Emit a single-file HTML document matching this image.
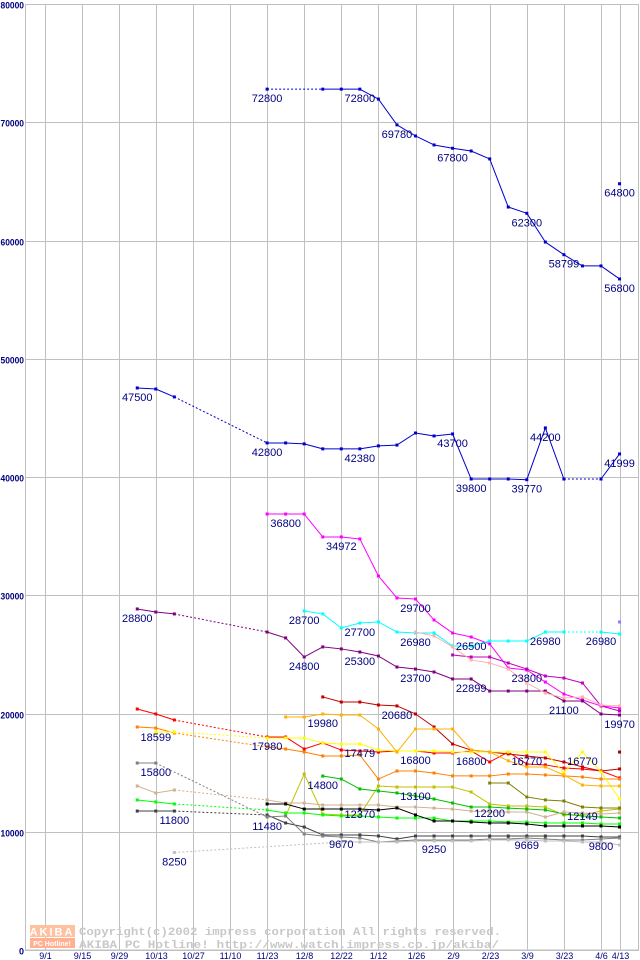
<!DOCTYPE html>
<html><head><meta charset="utf-8">
<style>
html,body{margin:0;padding:0;background:#fff;}
svg{display:block;}
text{font-family:"Liberation Sans",sans-serif;}
</style></head>
<body>
<svg id="chart" width="640" height="960" viewBox="0 0 640 960" xmlns="http://www.w3.org/2000/svg">
<g id="grid"></g>
<g id="axes"></g>
<g id="wm">
  <rect x="30" y="925" width="45" height="12" fill="#ffc0a0"/>
  <rect x="30" y="938" width="45" height="10" fill="#ffb090"/>
  <text x="52" y="935.5" font-size="11" font-weight="bold" fill="#fff" text-anchor="middle" letter-spacing="2">AKIBA</text>
  <text x="52" y="946" font-size="7" font-weight="bold" fill="#fff" text-anchor="middle">PC Hotline!</text>
  <text x="79" y="935" font-size="11" font-weight="bold" fill="#c8c8c8" textLength="422" lengthAdjust="spacingAndGlyphs" style="font-family:'Liberation Mono',monospace">Copyright(c)2002 impress corporation All rights reserved.</text>
  <text x="79" y="948" font-size="11" font-weight="bold" fill="#c8c8c8" textLength="420" lengthAdjust="spacingAndGlyphs" style="font-family:'Liberation Mono',monospace">AKIBA PC Hotline!  http://www.watch.impress.co.jp/akiba/</text>
</g>
<g id="series"></g>
<g id="labels"></g>
</svg>
<script>
const yTicks = [0,10000,20000,30000,40000,50000,60000,70000,80000];
const xTickLabels = ["9/1","9/15","9/29","10/13","10/27","11/10","11/23","12/8","12/22","1/12","1/26","2/9","2/23","3/9","3/23","4/6","4/13"];
const xTickWeeks = [0,2,4,6,8,10,12,14,16,18,20,22,24,26,28,30,31];

const seriesColors = ["#0000cc","#0000cc","#ff00ff","#00ffff","#800080","#c000c0","#ffb0b0","#c00000","#ff0000","#ff8000","#ffff00","#ffb000","#c0c000","#808000","#00c000","#00ff00","#d0b090","#000000","#404040","#808080","#c0c0c0","#0000cc","#8080ff","#a00000"];
const seriesNames = ["model-a","model-b","model-c","model-d","model-e","model-f","model-g","model-h","model-i","model-j","model-k","model-l","model-m","model-n","model-o","model-p","model-q","model-r","model-s","model-t","model-u","model-v","model-w","model-x"];
const W = (a,b)=>{const r=[];for(let i=a;i<=b;i++)r.push(i);return r;};
const seriesWeeks = [
 [12].concat(W(15,31)),
 [5,6,7].concat(W(12,28),[30,31]),
 W(12,31),
 W(14,28).concat([30,31]),
 [5,6,7].concat(W(12,31)),
 W(22,31),
 W(20,31),
 W(15,31),
 [5,6,7].concat(W(12,31)),
 [5,6,7].concat(W(12,31)),
 [6,7].concat(W(12,31)),
 W(13,31),
 W(13,31),
 W(24,31),
 W(15,31),
 [5,6,7].concat(W(12,31)),
 [5,6,7].concat(W(12,31)),
 W(12,31),
 [5,6,7].concat(W(12,31)),
 [5,6].concat(W(12,31)),
 [7].concat(W(16,31)),
 [31],[31],[31]
];
const s0 = [72800,72800,72800,72800,71960,69780,68840,68080,67800,67570,66900,62830,62300,59870,58800,57850,57850,56750];
const s1 = [47530,47440,46770,42880,42880,42800,42380,42380,42380,42630,42700,43720,43470,43640,39830,39830,39830,39770,44150,39830,39830,41950];
const s2 = [36870,36870,36870,34930,34930,34760,31630,29770,29680,27910,26810,26470,25880,23850,23680,22660,21650,21140,20640,20470];
const s3 = [28670,28420,27230,27650,27740,26890,26810,26810,25710,25710,26130,26130,26130,26890,26890,26890,26720];
const s4 = [28840,28580,28420,26890,26390,24780,25630,25460,25200,24860,23930,23760,23510,22920,22920,21900,21900,21900,21900,21060,21060,19960,19870];
const s5 = [24950,24780,24780,24270,23760,23170,23000,22580,20640,20210];
const s6 = [26890,26560,25630,24530,24270,23760,22580,21730,21310,21400,20720,20640];
const s7 = [21400,20970,20970,20720,20640,19960,18860,17420,16910,16740,16580,16410,16240,15900,15480,15140,15310];
const s8 = [20380,19960,19450,18010,18010,17000,17510,16910,16830,16740,16830,16830,16660,16660,16830,15900,16740,15730,15650,15390,15310,15140,14550];
const s9 = [18860,18770,18350,17170,17000,16740,16410,16410,16490,14460,15140,15140,14970,14720,14720,14720,14880,14880,14800,14720,14630,14460,14460];
const s10 = [18440,18440,17930,17930,17930,17510,17420,17420,16910,16830,16830,16830,16740,16740,16740,16740,16740,16740,14970,16740,15060,12770];
const s11 = [19700,19700,19960,19870,19870,18690,16740,18690,18690,18690,16910,16740,16000,15480,15480,14800,13950,13870,13870];
const s12 = [11330,14880,11500,11420,11420,13870,13780,13780,13780,13780,13360,12350,12180,12180,12090,11420,11420,11750,11920];
const s13 = [14120,14120,12940,12690,12600,12090,12010,12010];
const s14 = [14710,14460,13620,13450,13280,13020,12770,12430,12090,12090,12000,11920,11840,11500,11330,11250,11160];
const s15 = [12690,12520,12350,11840,11590,11590,11420,11330,11330,11250,11160,11160,11160,10910,10910,10910,10820,10820,10740,10740,10740,10660,10660];
const s16 = [13870,13280,13530,12690,12430,12430,12260,12260,12260,12260,12090,12090,12000,11920,11750,11670,11670,11670,11250,11670,11590,11500,11590];
const s17 = [12350,12350,11920,11920,11920,11920,11840,12010,11420,10910,10910,10820,10740,10740,10660,10490,10490,10490,10490,10400];
const s18 = [11750,11750,11750,11420,10740,10400,9730,9730,9730,9640,9390,9640,9640,9640,9640,9640,9640,9640,9640,9640,9640,9560,9560];
const s19 = [15810,15810,11250,11330,9810,9640,9560,9470,9130,9220,9300,9300,9300,9300,9390,9390,9470,9390,9300,9300,9390,9470];
const s20 = [8250,9130,9130,9130,9130,9220,9220,9220,9220,9300,9300,9300,9220,9220,9130,9130,8880];
const s21 = [64800];
const s22 = [27740];
const s23 = [16740];
const seriesValues = [s0,s1,s2,s3,s4,s5,s6,s7,s8,s9,s10,s11,s12,s13,s14,s15,s16,s17,s18,s19,s20,s21,s22,s23];

// labels: [series index, week, printed text]
const labelSeries = [0,0,0,0,0,0,0,21, 1,1,1,1,1,1,1,1, 2,2,2,2, 3,3,3,3,3, 4,4,4,4,4,4,4, 5, 7, 11, 8,10,9,10,10,10,10, 19,14,18,19, 20, 12,12,13,16, 18,19,18,18];
const labelWeeks  = [12,17,19,22,26,28,31,31, 5,12,17,22,23,26,27,31, 13,16,20,23, 14,17,20,27,30, 5,14,17,20,23,28,31, 26, 19, 15, 12,17,6,20,23,26,29, 6,15,7,12, 7, 20,24,29,17, 16,21,26,30];
const labelTexts  = ["72800","72800","69780","67800","62300","58799","56800","64800","47500","42800","42380","43700","39800","39770","44200","41999","36800","34972","29700","26500","28700","27700","26980","26980","26980","28800","24800","25300","23700","22899","21100","19970","23800","20680","19980","17980","17479","18599","16800","16800","16770","16770","15800","14800","11800","11480","8250","13100","12200","12149","12370","9670","9250","9669","9800"];

const NS="http://www.w3.org/2000/svg";
const X0=44.5, DX=18.55, Y0=950, YS=946/80000;
function xw(w){return X0+DX*w;}
function yv(v){return Y0-v*YS;}
function mk(tag,attrs,parent){const e=document.createElementNS(NS,tag);for(const k in attrs)e.setAttribute(k,attrs[k]);parent.appendChild(e);return e;}

const grid=document.getElementById('grid');
const axes=document.getElementById('axes');
let fr=mk('rect',{x:25.5,y:4.5,width:613,height:945.5,fill:'none',stroke:'#c0c0c0'},grid);


yTicks.forEach(t=>{
  const y=Math.round(yv(t))+0.5;
  const l=mk('line',{x1:25,x2:639,y1:y,y2:y,stroke:'#c0c0c0'},grid);
  
  
  const s=String(t);
  const at={x:24,y:y+4,'font-size':9,'font-weight':'bold',fill:'#000080','text-anchor':'end'};
  if(s.length>1){at.textLength=s.length*4.7;at.lengthAdjust='spacingAndGlyphs';}
  const tx=mk('text',at,axes);
  tx.textContent=s;
  
  
});
xTickWeeks.forEach((w,i)=>{
  const x=Math.round(xw(w))+0.5;
  const l=mk('line',{x1:x,x2:x,y1:4,y2:950,stroke:'#c0c0c0'},grid);
  
  
  const tx=mk('text',{x:x,y:959,'font-size':9,fill:'#000080','text-anchor':'middle'},axes);
  tx.textContent=xTickLabels[i];
  
  
});

const sg=document.getElementById('series');
seriesValues.forEach((vals,si)=>{
  const wk=seriesWeeks[si], col=seriesColors[si];
  const g=mk('g',{},sg);
  
  
  for(let i=1;i<vals.length;i++){
    const gap=wk[i]-wk[i-1]>1;
    const a={x1:xw(wk[i-1]),y1:yv(vals[i-1]),x2:xw(wk[i]),y2:yv(vals[i]),stroke:col,'stroke-width':1};
    if(gap)a['stroke-dasharray']='2,2';
    const l=mk('line',a,g);
    
    
  }
  vals.forEach((v,i)=>{
    const r=mk('rect',{x:xw(wk[i])-1.5,y:yv(v)-1.5,width:3,height:3,fill:col},g);
    
    
  });
});

const lg=document.getElementById('labels');
labelTexts.forEach((t,i)=>{
  const si=labelSeries[i], w=labelWeeks[i];
  const idx=seriesWeeks[si].indexOf(w);
  const v=seriesValues[si][idx];
  const tx=mk('text',{x:xw(w),y:yv(v)+13,'font-size':11,fill:'#000080','text-anchor':'middle'},lg);
  tx.textContent=t;
  
  
});
</script>
</body></html>
